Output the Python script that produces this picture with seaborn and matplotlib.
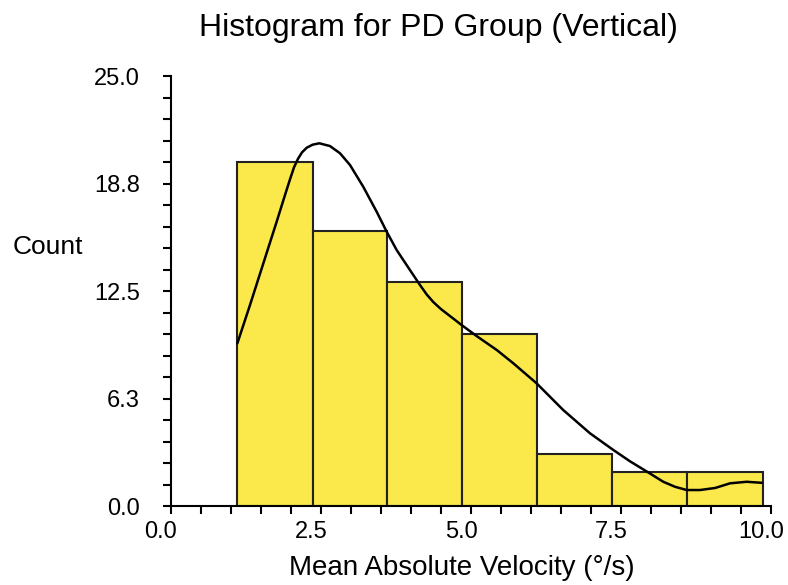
import matplotlib
matplotlib.use("Agg")
import matplotlib.pyplot as plt
import matplotlib.transforms as mtransforms
import seaborn as sns
from matplotlib.ticker import MultipleLocator

# ---- data ----
bin_edges = [1.105, 2.37, 3.605, 4.85, 6.10, 7.35, 8.60, 9.87]
counts = [20, 16, 13, 10, 3, 2, 2]

curve_x = [1.106, 1.317, 1.539, 1.761, 1.900, 1.983, 2.050, 2.117, 2.183,
           2.261, 2.361, 2.472, 2.65, 2.817, 2.983, 3.205, 3.428, 3.595,
           3.762, 3.983, 4.150, 4.262, 4.372, 4.500, 4.845, 5.095, 5.43,
           5.705, 6.095, 6.538, 6.983, 7.372, 7.65, 7.928, 8.205, 8.40,
           8.595, 8.817, 9.07, 9.317, 9.595, 9.845]
curve_y = [9.46, 11.69, 14.11, 16.53, 18.08, 18.99, 19.69, 20.19, 20.56,
           20.83, 21.01, 21.09, 20.93, 20.51, 19.83, 18.56, 17.11, 15.95,
           14.88, 13.72, 12.85, 12.30, 11.86, 11.45, 10.52, 9.88, 9.07,
           8.30, 7.13, 5.58, 4.23, 3.26, 2.60, 2.01, 1.41, 1.12,
           0.93, 0.93, 1.05, 1.32, 1.41, 1.35]

xticks = [0.0, 2.5, 5.0, 7.5, 10.0]
xtick_labels = ["0.0", "2.5", "5.0", "7.5", "10.0"]
yticks = [0.0, 6.25, 12.5, 18.75, 25.0]
ytick_labels = ["0.0", "6.3", "12.5", "18.8", "25.0"]

title = "Histogram for PD Group (Vertical)"
xlabel = "Mean Absolute Velocity (°/s)"
ylabel = "Count"

# ---- plotting ----
sns.set_style("white")
plt.rcParams['font.family'] = ['Liberation Sans', 'DejaVu Sans']
plt.rcParams['text.color'] = 'black'
plt.rcParams['axes.labelcolor'] = 'black'
plt.rcParams['xtick.color'] = 'black'
plt.rcParams['ytick.color'] = 'black'

fig = plt.figure(figsize=(7.88, 5.85), dpi=100)
ax = fig.add_axes([0.2170, 0.1350, 0.7614, 0.7350])

centers = [(bin_edges[i] + bin_edges[i + 1]) / 2 for i in range(len(counts))]
sns.histplot(x=centers, weights=counts, bins=bin_edges, ax=ax,
             color="#FBE84A", alpha=1.0, edgecolor="#222222", linewidth=1.5)
sns.lineplot(x=curve_x, y=curve_y, ax=ax, color="black", linewidth=1.8,
             sort=False, estimator=None)

ax.set_xlim(0, 10)
ax.set_ylim(0, 25)
ax.set_xticks(xticks)
ax.set_xticklabels(xtick_labels)
ax.set_yticks(yticks)
ax.set_yticklabels(ytick_labels)
ax.xaxis.set_minor_locator(MultipleLocator(0.5))
ax.yaxis.set_minor_locator(MultipleLocator(1.25))
ax.tick_params(axis="both", which="both", direction="out", length=6,
               width=1.5, color="black", labelsize=17)
ax.tick_params(axis="x", which="both", pad=5, bottom=True)
ax.tick_params(axis="y", which="both", pad=16.5, left=True)

# x tick labels sit slightly left of their ticks in the reference
offset = mtransforms.ScaledTranslation(-10 / 100, 0, fig.dpi_scale_trans)
for lab in ax.get_xticklabels():
    lab.set_transform(lab.get_transform() + offset)

for s in ["top", "right"]:
    ax.spines[s].set_visible(False)
for s in ["left", "bottom"]:
    ax.spines[s].set_color("black")
    ax.spines[s].set_linewidth(1.5)

ax.set_xlabel(xlabel, fontsize=20)
ax.xaxis.set_label_coords(0.485, -0.143)
ax.get_xaxis().label.set_va("center")
ax.set_ylabel(ylabel, fontsize=19, rotation=0, ha="center", va="center")
ax.yaxis.set_label_coords(-0.205, 0.603)

ax.text(0.445, 1.112, title, transform=ax.transAxes, fontsize=23,
        ha="center", va="center")

fig.savefig("out.png", dpi=100)
